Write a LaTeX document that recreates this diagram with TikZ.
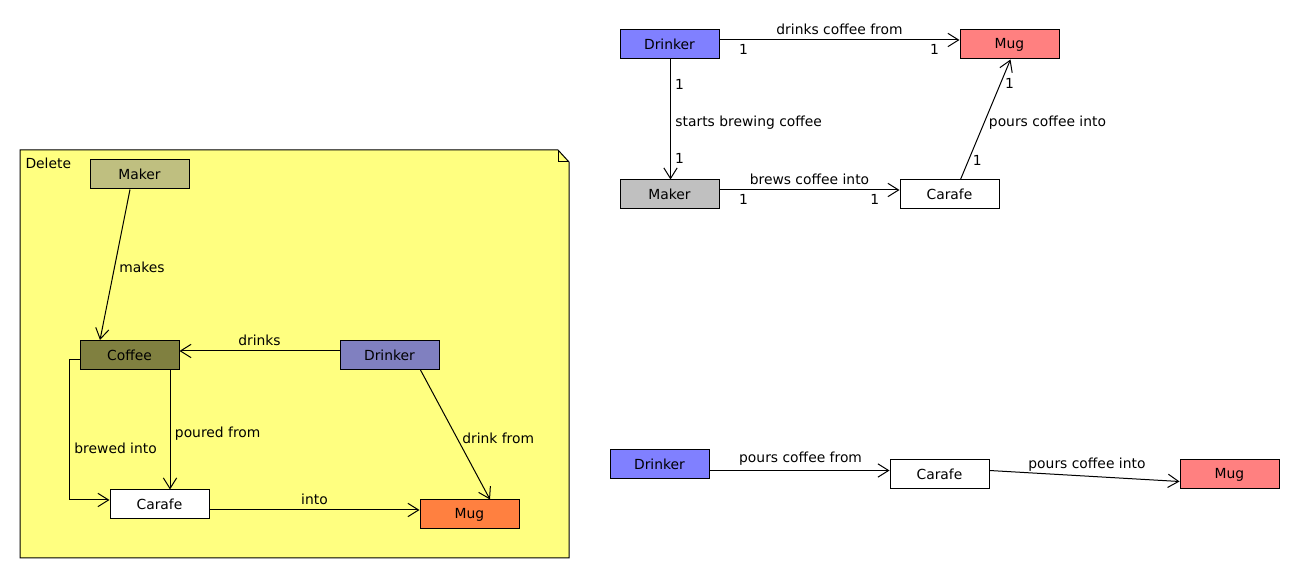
\documentclass[tikz,border=0pt]{standalone}
\usepackage{fontspec}
\setmainfont{DejaVu Sans}
\usepackage{tikz}
\usetikzlibrary{arrows.meta, calc}
\tikzset{>={Straight Barb[length=8pt,width=10pt]}}

\definecolor{notefill}{RGB}{255,255,128}
\definecolor{makerolive}{RGB}{191,191,128}
\definecolor{coffeeolive}{RGB}{128,128,64}
\definecolor{drinkerdim}{RGB}{128,128,192}
\definecolor{mugorange}{RGB}{255,128,64}
\definecolor{drinkerblue}{RGB}{128,128,255}
\definecolor{mugred}{RGB}{255,128,128}
\definecolor{makergray}{RGB}{192,192,192}

\def\px{0.75pt}

\begin{document}
\begin{tikzpicture}[x=\px, y=-\px, line width=\px,
    font=\fontsize{10.4}{12}\selectfont,
    cls/.style={draw, minimum width=74.25pt, minimum height=21.75pt, inner sep=0pt},
    mult/.style={inner sep=3pt}]

    \useasboundingbox (0,0) rectangle (1300,580);

    % Delete note
    \filldraw[fill=notefill] (20,150) -- (558,150) -- (569,162) -- (569,558) -- (20,558) -- cycle;
    \draw (558,150) -- (558,162) -- (569,162);
    \node[anchor=west, inner sep=0pt] (deletelabel) at (25,163) {Delete};

    \node[cls, fill=makerolive]  (lmaker)   at (139.5,174.5) {Maker};
    \node[cls, fill=coffeeolive] (lcoffee)  at (129.5,355)   {Coffee};
    \node[cls, fill=drinkerdim]  (ldrinker) at (389.5,355)   {Drinker};
    \node[cls, fill=white]       (lcarafe)  at (159.5,504.5) {Carafe};
    \node[cls, fill=mugorange]   (lmug)     at (469.5,514.5) {Mug};

    \draw[->] ($(lmaker.south)+(-9.5,0)$) -- node[pos=0.52, right] (makeslbl) {makes} ($(lcoffee.north)+(-29.5,0)$);
    \draw[->] ($(ldrinker.west)+(0,-4)$) -- node[above] (drinkslbl) {drinks} ($(lcoffee.east)+(0,-4)$);
    \draw[->] ($(lcoffee.west)+(0,5)$) -- ++(-10,0)
        -- node[pos=0.63, right] (brewedlbl) {brewed into} ($(lcarafe.west)+(-40,-4.5)$)
        -- ($(lcarafe.west)+(0,-4.5)$);
    \draw[->] ($(lcoffee.south)+(40.5,0)$) -- node[pos=0.53, right] (pouredlbl) {poured from} ($(lcarafe.north)+(10.5,0)$);
    \draw[->] ($(lcarafe.east)+(0,5.5)$) -- node[above] (intolbl) {into} ($(lmug.west)+(0,-4.5)$);
    \draw[->] ($(ldrinker.south)+(31,0)$) -- node[pos=0.53, right] (drinkfromlbl) {drink from} ($(lmug.north)+(20.5,0)$);

    % Associations with multiplicities
    \node[cls, fill=drinkerblue] (rdrinker) at (669.5,44.5)  {Drinker};
    \node[cls, fill=mugred]      (rmug)     at (1009.5,44.5) {Mug};
    \node[cls, fill=makergray]   (rmaker)   at (669.5,194.5) {Maker};
    \node[cls, fill=white]       (rcarafe)  at (949.5,194.5) {Carafe};

    \draw[->] ($(rdrinker.east)+(0,-4.5)$) -- node[above] (drinkscoffeelbl) {drinks coffee from}
        node[mult, pos=0.1, below] (m1) {1} node[mult, pos=0.896, below] (m2) {1} ($(rmug.west)+(0,-4.5)$);
    \draw[->] ($(rdrinker.south)+(1,0)$) -- node[pos=0.53, right] (startslbl) {starts brewing coffee}
        node[mult, pos=0.21, right] (m3) {1} node[mult, pos=0.826, right] (m4) {1} ($(rmaker.north)+(1,0)$);
    \draw[->] ($(rmaker.east)+(0,-4.5)$) -- node[above] (brewslbl) {brews coffee into}
        node[mult, pos=0.133, below] (m5) {1} node[mult, pos=0.862, below] (m6) {1} ($(rcarafe.west)+(0,-4.5)$);
    \draw[->] ($(rcarafe.north)+(11,0)$) -- node[pos=0.47, right] (poursintolbl) {pours coffee into}
        node[mult, pos=0.157, right] (m7) {1} node[mult, pos=0.8, right] (m8) {1} ($(rmug.south)+(1,0)$);

    % Plain chain
    \node[cls, fill=drinkerblue] (bdrinker) at (659.5,464.5)  {Drinker};
    \node[cls, fill=white]       (bcarafe)  at (939.5,474.5)  {Carafe};
    \node[cls, fill=mugred]      (bmug)     at (1229.5,474.5) {Mug};

    \draw[->] ($(bdrinker.east)+(0,6)$) -- node[pos=0.506, above] (bfromlbl) {pours coffee from} ($(bcarafe.west)+(0,-4)$);
    \draw[->] ($(bcarafe.east)+(0,-4)$) -- node[pos=0.513, above] (bintolbl) {pours coffee into} ($(bmug.west)+(0,7)$);

\end{tikzpicture}
\end{document}
